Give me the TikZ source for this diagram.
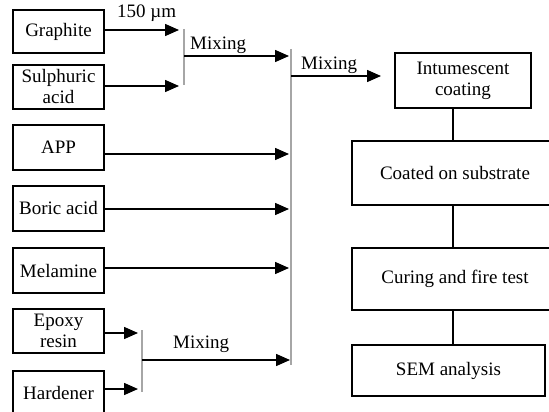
\documentclass[tikz,border=0pt]{standalone}
\usepackage{fontspec}
\setmainfont{Liberation Serif}
\usetikzlibrary{arrows.meta}
\begin{document}
\begin{tikzpicture}[x=1pt,y=-1pt,
  box/.style={draw, line width=1.5pt, align=center, inner sep=2pt,
    font=\fontsize{19}{21}\selectfont},
  lbl/.style={inner sep=0pt, font=\fontsize{19}{21}\selectfont},
  arr/.style={line width=1.5pt, -{Triangle[length=14pt,width=12pt]}},
  link/.style={line width=1.5pt},
  bar/.style={draw=black!35, line width=1.1pt}]
\useasboundingbox (0,0) rectangle (549,412);
\clip (0,0) rectangle (549,412);
% left column
\node[box, minimum width=91pt, minimum height=43pt] (gr) at (58.5,31.5) {Graphite};
\node[box, minimum width=91pt, minimum height=44pt] (su) at (58.5,87) {Sulphuric\\acid};
\node[box, minimum width=91pt, minimum height=45pt] (ap) at (58.5,147.5) {APP};
\node[box, minimum width=91pt, minimum height=45pt] (bo) at (58.5,208.5) {Boric acid};
\node[box, minimum width=91pt, minimum height=45pt] (me) at (58.5,270.5) {Melamine};
\node[box, minimum width=91pt, minimum height=44pt] (ep) at (58.5,331) {Epoxy\\resin};
\node[box, minimum width=91pt, minimum height=44pt] (ha) at (58.5,393) {Hardener};
% right column
\node[box, minimum width=136pt, minimum height=55pt] (in) at (463,80.5) {Intumescent\\coating};
\node[box, minimum width=206pt, minimum height=64pt] (co) at (455,173) {Coated on substrate};
\node[box, minimum width=206pt, minimum height=62pt] (cu) at (455,279) {Curing and fire test};
\node[box, minimum width=193pt, minimum height=51pt] (se) at (448.5,370.5) {SEM analysis};
% bars (mixing junctions)
\coordinate (b1t) at (184,29); \coordinate (b1b) at (184,85);
\coordinate (b2t) at (291,49); \coordinate (b2b) at (291,365);
\coordinate (b3t) at (142,330); \coordinate (b3b) at (142,392);
\draw[bar] (b1t) -- (b1b);
\draw[bar] (b2t) -- (b2b);
\draw[bar] (b3t) -- (b3b);
% arrows into bar 1
\draw[arr] (gr.east |- 0,30) -- ([xshift=-5pt]b1t |- 0,30);
\draw[arr] (su.east |- 0,86) -- ([xshift=-5pt]b1t |- 0,86);
% bar1 to bar2
\draw[arr] (b1t |- 0,56) -- ([xshift=-2pt]b2t |- 0,56);
% direct arrows into bar 2
\draw[arr] (ap.east |- 0,154) -- ([xshift=-2pt]b2t |- 0,154);
\draw[arr] (bo.east |- 0,209) -- ([xshift=-2pt]b2t |- 0,209);
\draw[arr] (me.east |- 0,268) -- ([xshift=-2pt]b2t |- 0,268);
% arrows into bar 3
\draw[arr] (ep.east |- 0,333) -- ([xshift=-4pt]b3t |- 0,333);
\draw[arr] (ha.east |- 0,389) -- ([xshift=-4pt]b3t |- 0,389);
\draw[arr] (b3t |- 0,360) -- ([xshift=-1pt]b2t |- 0,360);
% bar2 to intumescent coating
\coordinate (mixend) at (381,76);
\draw[arr] (b2t |- mixend) -- (mixend);
% labels
\node[lbl, anchor=base west] (l150) at (117,18) {150 µm};
\node[lbl, anchor=base west] (lm1) at (190,50) {Mixing};
\node[lbl, anchor=base west] (lm2) at (301,70) {Mixing};
\node[lbl, anchor=base west] (lm3) at (173,348) {Mixing};
% vertical links
\coordinate (vx) at (453,0);
\draw[link] (vx |- in.south) -- (vx |- co.north);
\draw[link] (vx |- co.south) -- (vx |- cu.north);
\draw[link] (vx |- cu.south) -- (vx |- se.north);
\end{tikzpicture}
\end{document}
